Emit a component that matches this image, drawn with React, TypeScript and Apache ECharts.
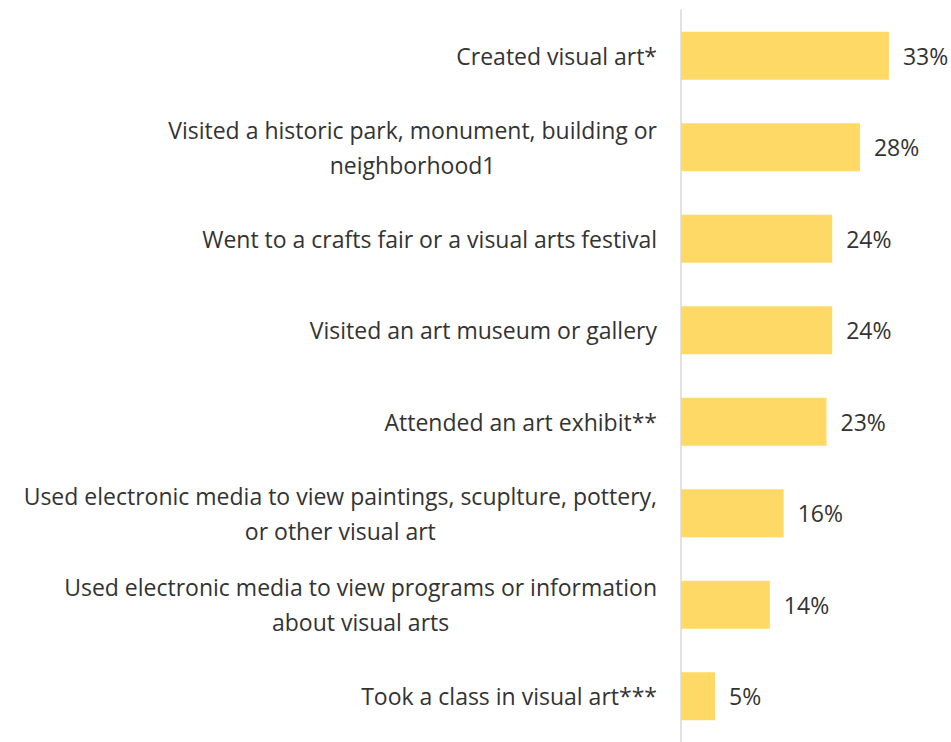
import React, { useEffect, useRef } from "react";
import * as echarts from "echarts";

const categories = [
  "Created visual art*",
  "Visited a historic park, monument, building or\nneighborhood1",
  "Went to a crafts fair or a visual arts festival",
  "Visited an art museum or gallery",
  "Attended an art exhibit**",
  "Used electronic media to view paintings, scuplture, pottery,\nor other visual art",
  "Used electronic media to view programs or information\nabout visual arts",
  "Took a class in visual art***",
];

const values = [33.0, 28.4, 24.0, 24.0, 23.1, 16.3, 14.1, 5.4];

const FONT = "Open Sans";
const TEXT_COLOR = "#333333";
const FS = 23;

export default function App() {
  const ref = useRef<HTMLDivElement>(null);
  useEffect(() => {
    if (!ref.current) return;
    const chart = echarts.init(ref.current, null, { renderer: "svg" });
    chart.setOption({
      animation: false,
      backgroundColor: "#ffffff",
      grid: { left: 681, top: 10, width: 252, height: 736, containLabel: false },
      xAxis: {
        type: "value",
        min: 0,
        max: 40,
        show: false,
      },
      yAxis: {
        type: "category",
        inverse: true,
        data: categories,
        axisLine: { show: true, lineStyle: { color: "#d9d9d9", width: 1.5 } },
        axisTick: { show: false },
        splitLine: { show: false },
        axisLabel: {
          margin: 24,
          align: "right",
          fontFamily: FONT,
          fontSize: FS,
          color: TEXT_COLOR,
          lineHeight: 35,
          formatter: (v: string) =>
            v
              .split("\n")
              .map((l) => "{c|" + l + "}")
              .join("\n"),
          rich: {
            c: {
              align: "center",
              fontFamily: FONT,
              fontSize: FS,
              color: TEXT_COLOR,
              lineHeight: 35,
            },
          },
        },
      },
      series: [
        {
          type: "bar",
          data: values,
          barWidth: 48,
          itemStyle: { color: "#FFD966" },
          label: {
            show: true,
            position: "right",
            distance: 14,
            fontFamily: FONT,
            fontSize: FS,
            color: TEXT_COLOR,
            formatter: (p: any) => Math.round(p.value) + "%",
          },
        },
      ],
    });
    return () => chart.dispose();
  }, []);
  return (
    <div
      ref={ref}
      style={{ position: "fixed", left: 0, top: 0, width: 951, height: 742 }}
    />
  );
}
